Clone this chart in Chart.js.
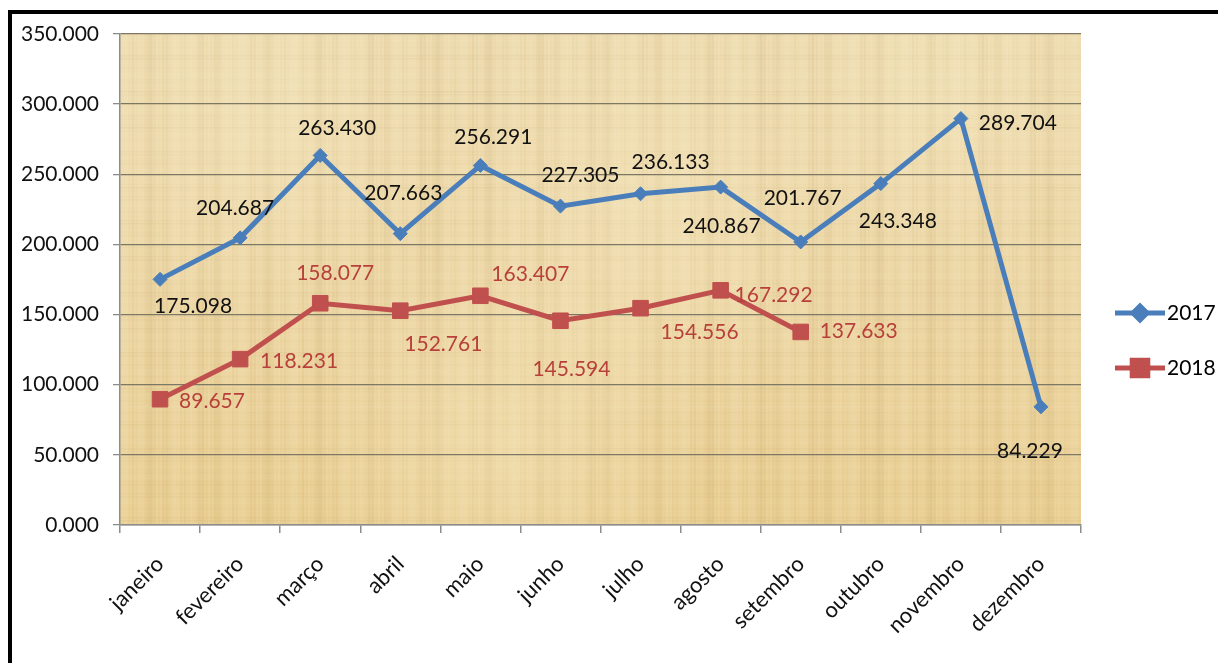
<!DOCTYPE html>
<html lang="pt">
<head>
    <meta charset="UTF-8">
    <title>2017 x 2018</title>
    <script src="https://cdn.jsdelivr.net/npm/chart.js"></script>
    <style>
        body {
            margin: 0;
            background: #ffffff;
        }
        #chart-container {
            position: relative;
            width: 1218px;
            height: 663px;
        }
    </style>
</head>
<body>
    <div id="chart-container">
        <canvas id="grafico"></canvas>
    </div>
    <script>
        // dados
        const meses = ['janeiro', 'fevereiro', 'março', 'abril', 'maio', 'junho',
            'julho', 'agosto', 'setembro', 'outubro', 'novembro', 'dezembro'];
        const valores2017 = [175.098, 204.687, 263.430, 207.663, 256.291, 227.305,
            236.133, 240.867, 201.767, 243.348, 289.704, 84.229];
        const valores2018 = [89.657, 118.231, 158.077, 152.761, 163.407, 145.594,
            154.556, 167.292, 137.633, null, null, null];
        const eixoY = { min: 0, max: 350, passo: 50 };

        // deslocamento dos rótulos (em px, relativo ao ponto)
        const desloc2017 = [[33, 27], [-5, -30], [17, -27], [3, -40], [13, -28], [20, -31],
            [30, -32], [1, 39], [2, -44], [17, 38], [57, 5], [-11, 44]];
        const desloc2018 = [[52, 2], [59, 2], [15, -30], [43, 34], [50, -22], [11, 48],
            [59, 24], [53, 5], [58, -1]];

        const AZUL = '#4a7ebb';
        const VERMELHO = '#c0504d';
        const FONTE = 'Lato, "Liberation Sans", sans-serif';

        // fundo tipo papiro
        const papiro = {
            id: 'papiro',
            beforeDraw(chart) {
                const { ctx, chartArea: a } = chart;
                ctx.save();
                let g = ctx.createLinearGradient(0, a.top, 0, a.bottom);
                g.addColorStop(0, '#eedcb0');
                g.addColorStop(0.5, '#edd7a6');
                g.addColorStop(1, '#eacf93');
                ctx.fillStyle = g;
                ctx.fillRect(a.left, a.top, a.right - a.left, a.bottom - a.top);

                // fibras verticais
                for (let x = a.left; x < a.right; x += 2) {
                    const v = Math.sin(x * 0.37) + Math.sin(x * 0.113) * 0.8 + Math.sin(x * 1.7) * 0.6;
                    ctx.fillStyle = v > 0 ? 'rgba(255,250,230,' + (v * 0.06) + ')' : 'rgba(150,115,50,' + (-v * 0.05) + ')';
                    ctx.fillRect(x, a.top, 2, a.bottom - a.top);
                }
                // fibras horizontais
                for (let y = a.top; y < a.bottom; y += 3) {
                    const v = Math.sin(y * 0.53) + Math.sin(y * 0.19) * 0.7;
                    ctx.fillStyle = v > 0 ? 'rgba(255,250,230,' + (v * 0.05) + ')' : 'rgba(150,115,50,' + (-v * 0.04) + ')';
                    ctx.fillRect(a.left, y, a.right - a.left, 1.5);
                }
                // manchas claras
                const manchas = [[0.15, 0.2, 180], [0.55, 0.35, 220], [0.85, 0.15, 160], [0.4, 0.85, 200]];
                manchas.forEach(([fx, fy, r]) => {
                    const cx = a.left + fx * (a.right - a.left);
                    const cy = a.top + fy * (a.bottom - a.top);
                    const rg = ctx.createRadialGradient(cx, cy, 0, cx, cy, r);
                    rg.addColorStop(0, 'rgba(248,236,200,0.35)');
                    rg.addColorStop(1, 'rgba(248,236,200,0)');
                    ctx.fillStyle = rg;
                    ctx.fillRect(a.left, a.top, a.right - a.left, a.bottom - a.top);
                });
                ctx.restore();
            }
        };

        // rótulos de dados
        const rotulos = {
            id: 'rotulos',
            afterDatasetsDraw(chart) {
                const { ctx } = chart;
                ctx.save();
                ctx.font = '21px ' + FONTE;
                ctx.textAlign = 'center';
                ctx.textBaseline = 'middle';
                chart.data.datasets.forEach((ds, i) => {
                    const meta = chart.getDatasetMeta(i);
                    ctx.fillStyle = ds.corRotulo;
                    meta.data.forEach((pt, j) => {
                        const v = ds.data[j];
                        if (v === null || v === undefined) return;
                        const d = ds.desloc[j] || [0, -25];
                        ctx.fillText(v.toFixed(3), pt.x + d[0], pt.y + d[1]);
                    });
                });
                ctx.restore();
            }
        };

        // legenda + moldura
        const legenda = {
            id: 'legenda',
            afterDraw(chart) {
                const { ctx } = chart;
                ctx.save();
                chart.data.datasets.forEach((ds, i) => {
                    const y = 313 + i * 55;
                    const x0 = 1115, x1 = 1165;
                    ctx.strokeStyle = ds.borderColor;
                    ctx.lineWidth = 5;
                    ctx.beginPath();
                    ctx.moveTo(x0, y);
                    ctx.lineTo(x1, y);
                    ctx.stroke();
                    Chart.helpers.drawPoint(ctx, {
                        pointStyle: ds.pointStyle,
                        radius: ds.pointRadius,
                        borderWidth: 1
                    }, (x0 + x1) / 2, y);
                    ctx.fillStyle = ds.backgroundColor;
                    ctx.fill();
                    ctx.fillStyle = '#000';
                    ctx.font = '21px ' + FONTE;
                    ctx.textAlign = 'left';
                    ctx.textBaseline = 'middle';
                    ctx.fillText(ds.label, x1 + 2, y);
                });
                // moldura preta
                ctx.fillStyle = '#000';
                ctx.fillRect(8, 10, 1210, 4);
                ctx.fillRect(8, 10, 4, 653);
                ctx.restore();
            }
        };

        const ctx = document.getElementById('grafico').getContext('2d');
        new Chart(ctx, {
            type: 'line',
            data: {
                labels: meses,
                datasets: [{
                    label: '2017',
                    data: valores2017,
                    borderColor: AZUL,
                    backgroundColor: AZUL,
                    borderWidth: 5,
                    pointStyle: 'rectRot',
                    pointRadius: 7,
                    pointBorderWidth: 1,
                    tension: 0,
                    corRotulo: '#111111',
                    desloc: desloc2017
                }, {
                    label: '2018',
                    data: valores2018,
                    borderColor: VERMELHO,
                    backgroundColor: VERMELHO,
                    borderWidth: 5,
                    pointStyle: 'rect',
                    pointRadius: 11,
                    pointBorderWidth: 1,
                    tension: 0,
                    corRotulo: '#b8403b',
                    desloc: desloc2018
                }]
            },
            options: {
                responsive: true,
                maintainAspectRatio: false,
                animation: false,
                layout: { padding: { top: 34, right: 137, left: 0, bottom: 0 } },
                plugins: {
                    legend: { display: false },
                    tooltip: { enabled: false }
                },
                scales: {
                    x: {
                        offset: true,
                        grid: { offset: true, drawOnChartArea: false, tickLength: 8, color: '#8c8c8c', lineWidth: 1.5 },
                        border: { color: '#8c8c8c', width: 1.5 },
                        ticks: {
                            autoSkip: false, minRotation: 45, maxRotation: 45, padding: 18,
                            color: '#111', font: { family: FONTE, size: 22 }
                        },
                        afterFit(scale) { scale.height = 138; }
                    },
                    y: {
                        min: eixoY.min,
                        max: eixoY.max,
                        grid: { color: '#7d7765', lineWidth: 1.3, tickLength: 7, tickColor: '#8c8c8c' },
                        border: { color: '#8c8c8c', width: 1.5 },
                        ticks: {
                            stepSize: eixoY.passo, padding: 14, color: '#111',
                            font: { family: FONTE, size: 21 },
                            callback: v => v.toFixed(3)
                        },
                        afterFit(scale) { scale.width = 120; }
                    }
                }
            },
            plugins: [papiro, rotulos, legenda]
        });
    </script>
</body>
</html>
